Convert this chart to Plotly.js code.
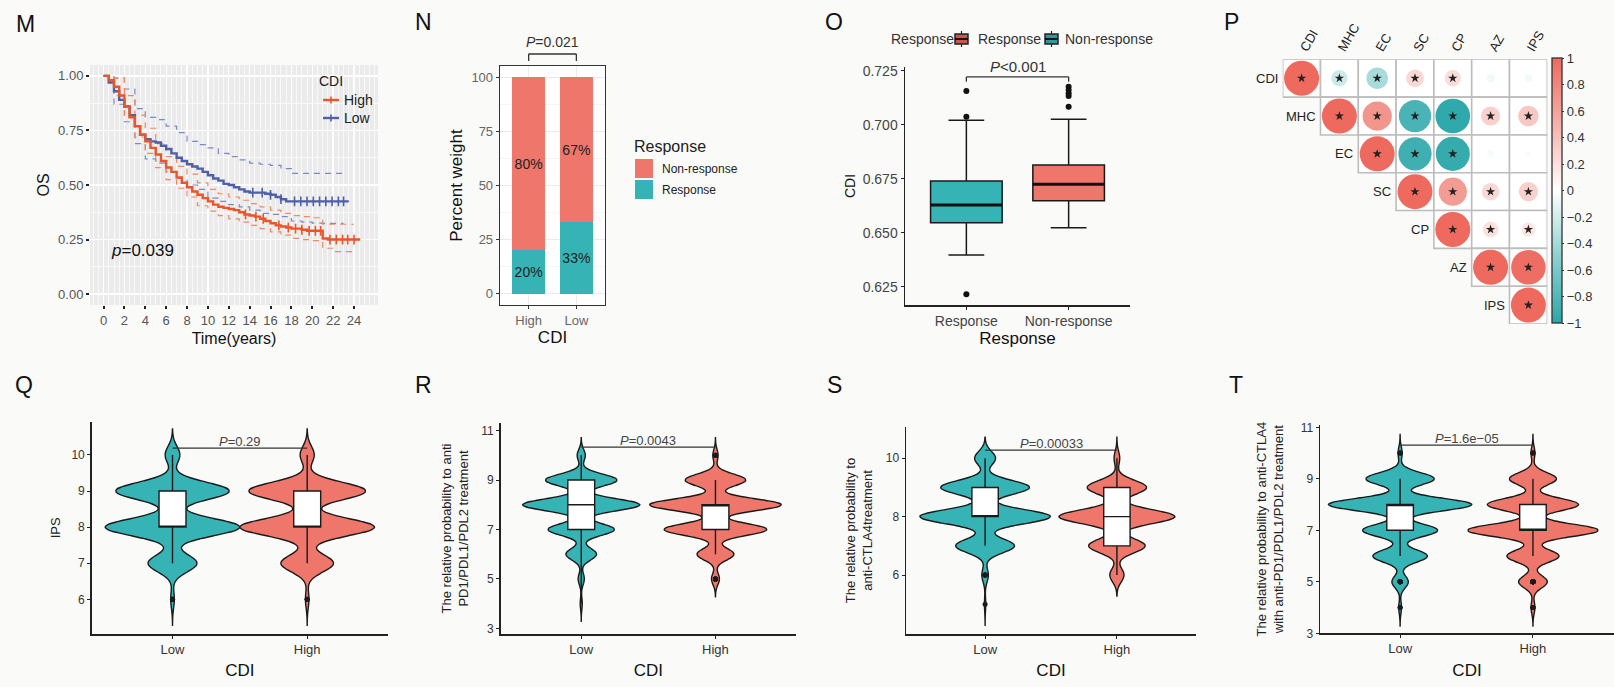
<!DOCTYPE html>
<html>
<head>
<meta charset="utf-8">
<script src="https://cdn.plot.ly/plotly-3.0.1.min.js"></script>
<style>
html,body{margin:0;padding:0;background:#fafaf8;}
#chart{width:1614px;height:687px;}
</style>
</head>
<body>
<div id="chart"></div>
<script>
// ===================== DATA =====================
// Panel M : Kaplan-Meier OS by CDI
const kmTime = [0,0.5,1,1.5,2,2.5,3,3.5,4,4.5,5,5.5,6,6.5,7,7.5,8,8.5,9,9.5,10,10.5,11,11.5,12,12.5,13,13.5,14,14.5,15,15.5,16,16.5,17,17.5,18,18.5,19,19.5,20,20.5,21,21.5,22,22.5,23,23.5,24,24.6];
const kmHigh = [1.00,0.98,0.95,0.91,0.86,0.81,0.77,0.73,0.70,0.67,0.64,0.61,0.58,0.56,0.535,0.51,0.49,0.47,0.455,0.44,0.425,0.41,0.40,0.395,0.39,0.385,0.375,0.365,0.36,0.355,0.345,0.335,0.325,0.315,0.31,0.305,0.30,0.30,0.295,0.29,0.29,0.29,0.255,0.25,0.25,0.25,0.25,0.25,0.25,0.25];
const kmLow = [1.00,0.97,0.93,0.89,0.86,0.82,0.77,0.73,0.71,0.70,0.695,0.68,0.665,0.645,0.625,0.61,0.595,0.585,0.575,0.56,0.545,0.53,0.52,0.505,0.50,0.49,0.48,0.47,0.465,0.465,0.465,0.46,0.455,0.445,0.435,0.425,0.425,0.425,0.425,0.425,0.425,0.425,0.425,0.425,0.425,0.425,0.425,0.425,null,null];
const ciTime = [0,1,2,3,4,5,6,7,8,9,10,11,12,13,14,15,16,17,18,19,20,21,22,23,24];
const ciHighUp = [1,0.99,0.91,0.82,0.76,0.69,0.63,0.585,0.55,0.51,0.48,0.46,0.445,0.43,0.415,0.40,0.385,0.37,0.36,0.355,0.35,0.32,0.32,0.32,0.32];
const ciHighLo = [1,0.91,0.81,0.72,0.645,0.58,0.525,0.485,0.445,0.405,0.38,0.36,0.345,0.33,0.315,0.30,0.285,0.27,0.255,0.25,0.245,0.21,0.195,0.195,0.195];
const ciLowUp = [1,0.99,0.94,0.85,0.81,0.80,0.77,0.74,0.70,0.685,0.67,0.645,0.63,0.615,0.60,0.595,0.59,0.575,0.553,0.553,0.553,0.553,0.553,0.553,null];
const ciLowLo = [1,0.87,0.79,0.69,0.62,0.60,0.56,0.53,0.50,0.48,0.44,0.425,0.41,0.40,0.385,0.37,0.365,0.355,0.335,0.33,0.325,0.324,0.324,0.324,null];
const censorHighT = [13.6,14.6,15.3,16.8,17.7,18.4,19.0,19.7,20.3,20.8,21.7,22.3,22.9,23.4,24.0];
const censorLowT = [14.3,15.2,16.0,17.0,18.3,18.9,19.5,20.1,20.7,21.3,21.9,22.5,23.0];
const kmP = "0.039";

// Panel N : stacked percent bars
const nCategories = ["High","Low"];
const nResponse = [20,33];
const nNonResponse = [80,67];
const nP = "0.021";

// Panel O : CDI boxplots by response
const oCategories = ["Response","Non-response"];
const oQ1 = [0.6546,0.6648];
const oMedian = [0.6628,0.6724];
const oQ3 = [0.6739,0.6813];
const oLowerWhisker = [0.6397,0.6523];
const oUpperWhisker = [0.7020,0.7025];
const oOutliersResponse = [0.7156,0.7037,0.6215];
const oOutliersNonResponse = [0.7083,0.7133,0.7145,0.7160,0.7176];

// Panel P : correlation matrix (upper triangle)
const corrLabels = ["CDI","MHC","EC","SC","CP","AZ","IPS"];
const corrRow0 = [1,-0.22,-0.38,0.25,0.22,-0.06,-0.05];
const corrRow1 = [null,1,0.70,-0.85,-0.98,0.30,0.35];
const corrRow2 = [null,null,1,-0.90,-0.95,-0.04,0.03];
const corrRow3 = [null,null,null,1,0.65,0.25,0.30];
const corrRow4 = [null,null,null,null,1,0.20,0.16];
const corrRow5 = [null,null,null,null,null,1,0.97];
const corrRow6 = [null,null,null,null,null,null,1];
const sigRow0 = [1,1,1,1,1,0,0];
const sigRow1 = [0,1,1,1,1,1,1];
const sigRow2 = [0,0,1,1,1,0,0];
const sigRow3 = [0,0,0,1,1,1,1];
const sigRow4 = [0,0,0,0,1,1,1];
const sigRow5 = [0,0,0,0,0,1,1];
const sigRow6 = [0,0,0,0,0,0,1];

// Panels Q-T : violin counts per integer score
const vCategories = ["Low","High"];
const qLevels = [6,7,8,9,10];
const qLowCounts = [3,40,110,93,12];
const qHighCounts = [3,45,115,100,12];
const rLevels = [4,5,6,7,8,9,10];
const rLowCounts = [2,6,30,65,115,70,8];
const rHighCounts = [0,6,28,78,100,46,4];
const sLevels = [5,6,7,8,9,10];
const sLowCounts = [1,5,45,100,68,16];
const sHighCounts = [0,10,40,82,42,4];
const tLevels = [4,5,6,7,8,9,10];
const tLowCounts = [2,12,40,55,105,50,3];
const tHighCounts = [3,22,40,100,70,36,3];
const vPvalues = ["0.29","0.0043","0.00033","1.6e\u221205"];

// ===================== HELPERS =====================
const W = 1614, H = 687;
const px = v => v / W;
const py = v => 1 - v / H;
const TEAL = "#35B3B5", SALMON = "#EE766A";
const FONT = "Liberation Sans, Arial, Helvetica, sans-serif";

function stepAt(times, vals, t) {
  let v = vals[0];
  for (let i = 0; i < times.length; i++) { if (times[i] <= t && vals[i] !== null) v = vals[i]; }
  return v;
}
function expand(levels, counts) {
  const out = [];
  levels.forEach((l, i) => { for (let k = 0; k < counts[i]; k++) out.push(l); });
  return out;
}

const traces = [];
const shapes = [];
const annotations = [];

// ===================== PANEL M =====================
const HIGHC = "#E8562A", LOWC = "#4F5FA8";
[[ciLowUp, "#7C89C6"], [ciLowLo, "#7C89C6"], [ciHighUp, "#EE8A66"], [ciHighLo, "#EE8A66"]].forEach(([arr, c]) => {
  traces.push({type:"scatter", mode:"lines", x:ciTime, y:arr, xaxis:"x", yaxis:"y",
    line:{color:c, width:1.2, dash:"6px,5px", shape:"hv"}, hoverinfo:"skip", showlegend:false});
});
traces.push({type:"scatter", mode:"lines", x:kmTime, y:kmLow, xaxis:"x", yaxis:"y",
  line:{color:LOWC, width:2.4, shape:"hv"}, name:"Low", showlegend:false});
traces.push({type:"scatter", mode:"lines", x:kmTime, y:kmHigh, xaxis:"x", yaxis:"y",
  line:{color:HIGHC, width:2.4, shape:"hv"}, name:"High", showlegend:false});
traces.push({type:"scatter", mode:"markers", x:censorLowT, y:censorLowT.map(t => stepAt(kmTime, kmLow, t)),
  xaxis:"x", yaxis:"y", marker:{symbol:"line-ns", size:7, line:{width:1.6, color:LOWC}}, hoverinfo:"skip", showlegend:false});
traces.push({type:"scatter", mode:"markers", x:censorHighT, y:censorHighT.map(t => stepAt(kmTime, kmHigh, t)),
  xaxis:"x", yaxis:"y", marker:{symbol:"line-ns", size:7, line:{width:1.6, color:HIGHC}}, hoverinfo:"skip", showlegend:false});

shapes.push({type:"rect", xref:"x domain", yref:"y domain", x0:0, x1:1, y0:0, y1:1, fillcolor:"#EBEBEB", line:{width:0}, layer:"below"});
annotations.push({xref:"x", yref:"y", x:0.5, y:0.2, xanchor:"left", yanchor:"middle", showarrow:false,
  text:"<i>p</i>=" + kmP, font:{size:17, color:"#111", family:FONT}});
// legend M
annotations.push({xref:"paper", yref:"paper", x:px(317), y:py(81), xanchor:"left", yanchor:"middle", showarrow:false, text:"CDI", font:{size:14, color:"#222", family:FONT}});
[["High", HIGHC, 100], ["Low", LOWC, 118]].forEach(([lab, c, yy]) => {
  shapes.push({type:"line", xref:"paper", yref:"paper", x0:px(323), x1:px(339), y0:py(yy), y1:py(yy), line:{color:c, width:2.4}});
  shapes.push({type:"line", xref:"paper", yref:"paper", x0:px(331), x1:px(331), y0:py(yy-3.5), y1:py(yy+3.5), line:{color:c, width:1.6}});
  annotations.push({xref:"paper", yref:"paper", x:px(342), y:py(yy), xanchor:"left", yanchor:"middle", showarrow:false, text:lab, font:{size:14, color:"#222", family:FONT}});
});

// ===================== PANEL N =====================
traces.push({type:"bar", x:nCategories, y:nResponse, xaxis:"x2", yaxis:"y2", marker:{color:TEAL}, width:0.7,
  text:nResponse.map(v => v + "%"), textposition:"inside", insidetextanchor:"middle", constraintext:"none", textangle:0,
  textfont:{size:14, color:"#222", family:FONT}, hoverinfo:"skip", showlegend:false});
traces.push({type:"bar", x:nCategories, y:nNonResponse, xaxis:"x2", yaxis:"y2", marker:{color:SALMON}, width:0.7,
  text:nNonResponse.map(v => v + "%"), textposition:"inside", insidetextanchor:"middle", constraintext:"none", textangle:0,
  textfont:{size:14, color:"#222", family:FONT}, hoverinfo:"skip", showlegend:false});
shapes.push({type:"rect", xref:"x2 domain", yref:"y2 domain", x0:0, x1:1, y0:0, y1:1, fillcolor:"#FFFFFF", line:{width:0}, layer:"below"});
// significance bracket N
shapes.push({type:"line", xref:"x2", yref:"paper", x0:0, x1:1, y0:py(54), y1:py(54), line:{color:"#333", width:1.3}});
shapes.push({type:"line", xref:"x2", yref:"paper", x0:0, x1:0, y0:py(54), y1:py(61), line:{color:"#333", width:1.3}});
shapes.push({type:"line", xref:"x2", yref:"paper", x0:1, x1:1, y0:py(54), y1:py(61), line:{color:"#333", width:1.3}});
annotations.push({xref:"x2", yref:"paper", x:0.5, y:py(42), xanchor:"center", yanchor:"middle", showarrow:false,
  text:"<i>P</i>=" + nP, font:{size:14, color:"#333", family:FONT}});
// legend N
annotations.push({xref:"paper", yref:"paper", x:px(632), y:py(146), xanchor:"left", yanchor:"middle", showarrow:false, text:"Response", font:{size:16, color:"#222", family:FONT}});
[["Non-response", SALMON, 159], ["Response", TEAL, 180]].forEach(([lab, c, y0]) => {
  shapes.push({type:"rect", xref:"paper", yref:"paper", x0:px(635), x1:px(653), y0:py(y0), y1:py(y0+19), fillcolor:c, line:{width:0}});
  annotations.push({xref:"paper", yref:"paper", x:px(660), y:py(y0+9.5), xanchor:"left", yanchor:"middle", showarrow:false, text:lab, font:{size:12, color:"#222", family:FONT}});
});

// ===================== PANEL O =====================
[TEAL, SALMON].forEach((c, i) => {
  traces.push({type:"box", x:[oCategories[i]], q1:[oQ1[i]], median:[oMedian[i]], q3:[oQ3[i]],
    lowerfence:[oLowerWhisker[i]], upperfence:[oUpperWhisker[i]], xaxis:"x3", yaxis:"y3",
    fillcolor:c, line:{color:"#1a1a1a", width:1.5}, width:0.7, boxpoints:false, hoverinfo:"skip", showlegend:false});
  shapes.push({type:"line", xref:"x3", yref:"y3", x0:i - 0.35, x1:i + 0.35, y0:oMedian[i], y1:oMedian[i], line:{color:"#111", width:3}});
});
traces.push({type:"scatter", mode:"markers", x:oOutliersResponse.map(() => oCategories[0]), y:oOutliersResponse, xaxis:"x3", yaxis:"y3",
  marker:{color:"#111", size:6}, hoverinfo:"skip", showlegend:false});
traces.push({type:"scatter", mode:"markers", x:oOutliersNonResponse.map(() => oCategories[1]), y:oOutliersNonResponse, xaxis:"x3", yaxis:"y3",
  marker:{color:"#111", size:6}, hoverinfo:"skip", showlegend:false});
shapes.push({type:"line", xref:"x3", yref:"y3", x0:0, x1:1, y0:0.7221, y1:0.7221, line:{color:"#333", width:1.3}});
shapes.push({type:"line", xref:"x3", yref:"y3", x0:0, x1:0, y0:0.7221, y1:0.7199, line:{color:"#333", width:1.3}});
shapes.push({type:"line", xref:"x3", yref:"y3", x0:1, x1:1, y0:0.7221, y1:0.7199, line:{color:"#333", width:1.3}});
annotations.push({xref:"x3", yref:"y3", x:0.5, y:0.7222, xanchor:"center", yanchor:"bottom", showarrow:false,
  text:"<i>P</i>&lt;0.001", font:{size:15, color:"#333", family:FONT}});
// legend O
annotations.push({xref:"paper", yref:"paper", x:px(889), y:py(39), xanchor:"left", yanchor:"middle", showarrow:false, text:"Response", font:{size:14, color:"#333", family:FONT}});
[["Response", "#C9574D", 955, 976], ["Non-response", "#2E9A9C", 1045, 1063]].forEach(([lab, c, kx, tx]) => {
  shapes.push({type:"line", xref:"paper", yref:"paper", x0:px(kx+6.5), x1:px(kx+6.5), y0:py(31), y1:py(47), line:{color:"#222", width:1.2}});
  shapes.push({type:"rect", xref:"paper", yref:"paper", x0:px(kx), x1:px(kx+13), y0:py(34), y1:py(44), fillcolor:c, line:{color:"#222", width:1.5}});
  shapes.push({type:"line", xref:"paper", yref:"paper", x0:px(kx), x1:px(kx+13), y0:py(39), y1:py(39), line:{color:"#111", width:2}});
  annotations.push({xref:"paper", yref:"paper", x:px(tx), y:py(39), xanchor:"left", yanchor:"middle", showarrow:false, text:lab, font:{size:14, color:"#333", family:FONT}});
});

// ===================== PANEL P =====================
const corrRows = [corrRow0, corrRow1, corrRow2, corrRow3, corrRow4, corrRow5, corrRow6];
const sigRows = [sigRow0, sigRow1, sigRow2, sigRow3, sigRow4, sigRow5, sigRow6];
const cx = [], cy = [], cs = [], cc = [], sx = [], sy = [];
corrRows.forEach((row, i) => {
  row.forEach((r, j) => {
    if (r === null) return;
    shapes.push({type:"rect", xref:"x4", yref:"y4", x0:j - 0.5, x1:j + 0.5, y0:i - 0.5, y1:i + 0.5,
      fillcolor:"#FFFFFF", line:{color:"#BDBDBD", width:1.6}, layer:"below"});
    cx.push(j); cy.push(i); cs.push(35 * Math.sqrt(Math.abs(r))); cc.push(r);
    if (sigRows[i][j]) { sx.push(j); sy.push(i); }
  });
  annotations.push({xref:"x4", yref:"y4", x:i - 0.5, y:i, xanchor:"right", yanchor:"middle", xshift:-3, showarrow:false,
    text:corrLabels[i], font:{size:13, color:"#222", family:FONT}});
});
const corrScale = [[0, "#2BA7A9"], [0.25, "#8ED0D0"], [0.5, "#FFFFFF"], [0.75, "#F5B1AA"], [1, "#EE6A5F"]];
traces.push({type:"scatter", mode:"markers", x:cx, y:cy, xaxis:"x4", yaxis:"y4",
  marker:{size:cs, color:cc, cmin:-1, cmax:1, colorscale:corrScale, line:{width:0}, opacity:1,
    colorbar:{x:px(1552), xanchor:"left", y:py(190.5), yanchor:"middle", len:265 / H, lenmode:"fraction",
      thickness:10, thicknessmode:"pixels", outlinewidth:1.3, outlinecolor:"#333",
      tickvals:[-1,-0.8,-0.6,-0.4,-0.2,0,0.2,0.4,0.6,0.8,1],
      ticktext:["\u22121","\u22120.8","\u22120.6","\u22120.4","\u22120.2","0","0.2","0.4","0.6","0.8","1"],
      ticks:"outside", ticklen:2, tickcolor:"#333", tickfont:{size:13, color:"#333", family:FONT}, xpad:0, ypad:0}},
  hoverinfo:"skip", showlegend:false});
traces.push({type:"scatter", mode:"markers", x:sx, y:sy, xaxis:"x4", yaxis:"y4",
  marker:{symbol:"star", size:7, color:"#222"}, hoverinfo:"skip", showlegend:false});

// ===================== PANELS Q-T =====================
const violinSets = [
  {ax:5, levels:qLevels, low:qLowCounts, high:qHighCounts, wLow:1.0, wHigh:1.0, bracket:10.19},
  {ax:6, levels:rLevels, low:rLowCounts, high:rHighCounts, wLow:0.875, wHigh:0.98, bracket:10.33},
  {ax:7, levels:sLevels, low:sLowCounts, high:sHighCounts, wLow:0.99, wHigh:0.88, bracket:10.28},
  {ax:8, levels:tLevels, low:tLowCounts, high:tHighCounts, wLow:1.08, wHigh:0.97, bracket:10.31}
];
const BW = 0.24;
violinSets.forEach((vs, k) => {
  [[vCategories[0], vs.low, TEAL, vs.wLow], [vCategories[1], vs.high, SALMON, vs.wHigh]].forEach(([cat, counts, col, w]) => {
    const y = expand(vs.levels, counts);
    traces.push({type:"violin", x:y.map(() => cat), y:y, xaxis:"x" + vs.ax, yaxis:"y" + vs.ax,
      fillcolor:col, opacity:1, line:{color:"#1a1a1a", width:1.4},
      bandwidth:BW, spanmode:"manual", span:[Math.min(...y) - 3 * BW, Math.max(...y) + 3 * BW],
      scalemode:"width", width:w, side:"both",
      box:{visible:true, width:0.2 / w, fillcolor:"#FFFFFF", line:{color:"#1a1a1a", width:1.4}},
      meanline:{visible:false}, points:"outliers", pointpos:0, jitter:0,
      marker:{color:"#1a1a1a", size:5}, hoverinfo:"skip", showlegend:false});
  });
  shapes.push({type:"line", xref:"x" + vs.ax, yref:"y" + vs.ax, x0:0, x1:1, y0:vs.bracket, y1:vs.bracket, line:{color:"#333", width:1.2}});
  annotations.push({xref:"x" + vs.ax, yref:"y" + vs.ax, x:0.5, y:vs.bracket, xanchor:"center", yanchor:"bottom", yshift:-3, showarrow:false,
    text:"<i>P</i>=" + vPvalues[k], font:{size:13, color:"#444", family:FONT}});
});

// ===================== PANEL LETTERS =====================
[["M",25,24],["N",424,22],["O",834,22],["P",1231,22],["Q",24,385],["R",424,385],["S",834,385],["T",1236,385]].forEach(([t, x, y]) => {
  annotations.push({xref:"paper", yref:"paper", x:px(x), y:py(y), xanchor:"center", yanchor:"middle", showarrow:false,
    text:t, font:{size:23, color:"#111", family:FONT}});
});

// ===================== LAYOUT =====================
const tickF = (s, c) => ({size:s, color:c, family:FONT});
const vAxisX = (dom, yanchor, rng) => ({domain:dom, anchor:yanchor, type:"category", categoryorder:"array", categoryarray:vCategories,
  range:rng, showline:true, linecolor:"#222", linewidth:1.5, ticks:"outside", ticklen:3, tickcolor:"#222",
  tickfont:tickF(13, "#333"), showgrid:false, zeroline:false,
  title:{text:"CDI", font:tickF(17, "#111"), standoff:8}});
const vAxisY = (dom, xanchor, rng, tv, title, standoff) => ({domain:dom, anchor:xanchor, range:rng, tickvals:tv,
  showline:true, linecolor:"#222", linewidth:1.5, ticks:"outside", ticklen:3, tickcolor:"#222",
  tickfont:tickF(12, "#333"), showgrid:false, zeroline:false,
  title:{text:title, font:tickF(13, "#222"), standoff:standoff}});

const layout = {
  width:W, height:H, margin:{l:0, r:0, t:0, b:0},
  paper_bgcolor:"#FAFAF8", plot_bgcolor:"rgba(0,0,0,0)",
  font:{family:FONT}, showlegend:false, barmode:"stack", violinmode:"overlay", boxmode:"overlay",
  shapes:shapes, annotations:annotations,
  // M
  xaxis:{domain:[px(90), px(378)], anchor:"y", range:[-1.3, 26.3], tickvals:[0,2,4,6,8,10,12,14,16,18,20,22,24],
    ticks:"outside", ticklen:3, tickwidth:2, tickcolor:"#222", tickfont:tickF(13, "#555"),
    showgrid:true, gridcolor:"#FFFFFF", gridwidth:1.3, zeroline:false, showline:false,
    minor:{dtick:0.5, tick0:0, showgrid:true, gridcolor:"#FFFFFF", gridwidth:0.7, ticks:""},
    title:{text:"Time(years)", font:tickF(16, "#111"), standoff:6}},
  yaxis:{domain:[py(305), py(65)], anchor:"x", range:[-0.05, 1.05], tickvals:[0,0.25,0.5,0.75,1],
    ticktext:["0.00","0.25","0.50","0.75","1.00"],
    ticks:"outside", ticklen:3, tickwidth:2, tickcolor:"#222", tickfont:tickF(13, "#555"),
    showgrid:true, gridcolor:"#FFFFFF", gridwidth:1.3, zeroline:false, showline:false,
    minor:{dtick:0.125, tick0:0, showgrid:true, gridcolor:"#FFFFFF", gridwidth:0.7, ticks:""},
    title:{text:"OS", font:tickF(16, "#111"), standoff:4}},
  // N
  xaxis2:{domain:[px(500), px(605)], anchor:"y2", type:"category", categoryorder:"array", categoryarray:nCategories,
    range:[-0.6, 1.6], showline:true, mirror:true, linecolor:"#333", linewidth:1.3, ticks:"outside", ticklen:3, tickcolor:"#333",
    tickfont:tickF(13, "#666"), showgrid:true, gridcolor:"#EBEBEB", zeroline:false,
    title:{text:"CDI", font:tickF(17, "#111"), standoff:2}},
  yaxis2:{domain:[py(305), py(66)], anchor:"x2", range:[-5.2, 105.2], tickvals:[0,25,50,75,100],
    showline:true, mirror:true, linecolor:"#333", linewidth:1.3, ticks:"outside", ticklen:3, tickcolor:"#333",
    tickfont:tickF(13, "#666"), showgrid:true, gridcolor:"#EBEBEB", zeroline:false,
    minor:{dtick:12.5, tick0:0, showgrid:true, gridcolor:"#F4F4F4", ticks:""},
    title:{text:"Percent weight", font:tickF(17, "#111"), standoff:4}},
  // O
  xaxis3:{domain:[px(905), px(1130)], anchor:"y3", type:"category", categoryorder:"array", categoryarray:oCategories,
    range:[-0.6, 1.6], showline:true, linecolor:"#222", linewidth:1.5, ticks:"outside", ticklen:3, tickcolor:"#222",
    tickfont:tickF(14, "#444"), showgrid:false, zeroline:false,
    title:{text:"Response", font:tickF(17, "#111"), standoff:3}},
  yaxis3:{domain:[py(305), py(67)], anchor:"x3", range:[0.6165, 0.7267], tickvals:[0.625,0.65,0.675,0.7,0.725],
    ticktext:["0.625","0.650","0.675","0.700","0.725"],
    showline:true, linecolor:"#222", linewidth:1.5, ticks:"outside", ticklen:3, tickcolor:"#222",
    tickfont:tickF(14, "#444"), showgrid:false, zeroline:false,
    title:{text:"CDI", font:tickF(14, "#111"), standoff:4}},
  // P
  xaxis4:{domain:[px(1282.7), px(1547.3)], anchor:"y4", range:[-0.5, 6.5], side:"top", tickvals:[0,1,2,3,4,5,6],
    ticktext:corrLabels, tickangle:-60, tickfont:tickF(13, "#222"), ticks:"", showgrid:false, zeroline:false, showline:false},
  yaxis4:{domain:[py(324), py(59.3)], anchor:"x4", range:[6.5, -0.5], showticklabels:false, ticks:"", showgrid:false, zeroline:false, showline:false},
  // Q-T
  xaxis5:vAxisX([px(91.7), px(388)], "y5", [-0.6, 1.6]),
  yaxis5:vAxisY([py(634), py(421.7)], "x5", [5.04, 10.92], [6,7,8,9,10], "IPS", 8),
  xaxis6:vAxisX([px(500.7), px(796)], "y6", [-0.6, 1.6]),
  yaxis6:vAxisY([py(634), py(423)], "x6", [2.77, 11.31], [3,5,7,9,11], "The relative probability to anti<br>PD1/PDL1/PDL2 treatment", 10),
  xaxis7:vAxisX([px(906), px(1196)], "y7", [-0.6, 1.6]),
  yaxis7:vAxisY([py(634), py(427)], "x7", [3.98, 11.07], [6,8,10], "The relative probability to<br>anti-CTLA4treatment", 10),
  xaxis8:vAxisX([px(1320), px(1614)], "y8", [-0.603, 1.61]),
  yaxis8:vAxisY([py(633.3), py(425)], "x8", [3, 11.09], [3,5,7,9,11], "The relative probability to anti-CTLA4<br>with anti-PD1/PDL1/PDL2 treatment", 14)
};

Plotly.newPlot("chart", traces, layout, {displayModeBar:false, staticPlot:true});
</script>
</body>
</html>
